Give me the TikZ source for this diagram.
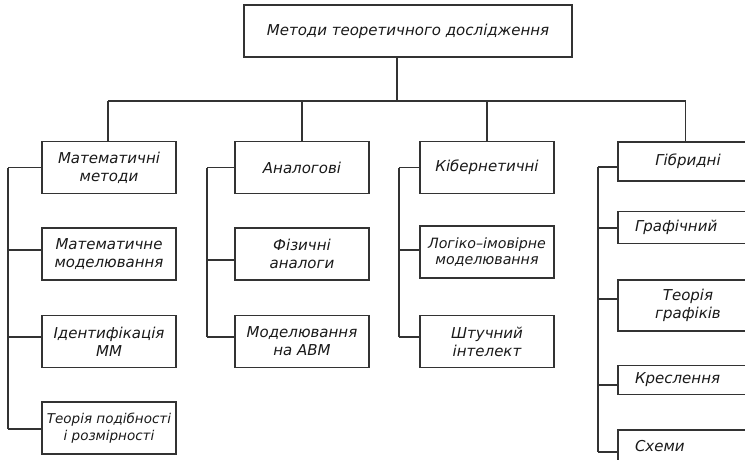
\documentclass[tikz,border=0pt]{standalone}
\usepackage{fontspec}
\setmainfont{DejaVu Sans}
\usetikzlibrary{calc}
\begin{document}
\begin{tikzpicture}[x=1pt,y=-1pt,
  box/.style={draw=black!80, line width=1.1pt, minimum width=134pt, minimum height=52pt,
    inner sep=0pt, align=center, text=black!90, font=\itshape\fontsize{15}{18}\selectfont},
  small/.style={font=\itshape\fontsize{13.5}{17}\selectfont},
  smallk/.style={font=\itshape\fontsize{14.2}{16.5}\selectfont},
  hbox/.style={box, minimum width=140pt},
  lbox/.style={hbox, text width=106pt, align=left},
  wire/.style={draw=black!80, line width=1.1pt}]
\useasboundingbox (0,0) rectangle (745,459);
\clip (0,0) rectangle (745,459);

% top
\node[box, minimum width=328pt] (top) at (408,31) {Методи теоретичного дослідження};

% column 1
\node[box] (m1) at (109,167.5) {Математичні\\методи};
\node[box] (m2) at (109,254) {Математичне\\моделювання};
\node[box] (m3) at (109,341.5) {Ідентифікація\\ММ};
\node[box, small] (m4) at (109,428) {Теорія подібності\\і розмірності};

% column 2
\node[box] (a1) at (302,167.5) {Аналогові};
\node[box] (a2) at (302,254) {Фізичні\\аналоги};
\node[box] (a3) at (302,341.5) {Моделювання\\на АВМ};

% column 3
\node[box] (k1) at (487,167.5) {Кібернетичні};
\node[box, smallk] (k2) at (487,252) {Логіко–імовірне\\моделювання};
\node[box] (k3) at (487,341.5) {Штучний\\інтелект};

% column 4
\node[hbox, minimum height=39pt] (h1) at (688,161.5) {Гібридні};
\node[lbox, minimum height=31.5pt] (h2) at (688,227.5) {Графічний};
\node[hbox, minimum height=51pt] (h3) at (688,305.5) {Теорія\\графіків};
\node[lbox, minimum height=28.5pt] (h4) at (688,380) {Креслення};
\node[lbox, minimum height=32pt] (h5) at (688,446) {Схеми};

% trunk and bus
\coordinate (trunk) at (397,101);
\coordinate (b1) at (108,101);
\coordinate (b4) at (685.5,101);
\draw[wire] (top.south -| trunk) -- (trunk);
\draw[wire] (b1) -- (b4);
\draw[wire] (b1) -- (b1 |- m1.north);
\draw[wire] (a1.north |- trunk) -- (a1.north);
\draw[wire] (k1.north |- trunk) -- (k1.north);
\draw[wire] (b4) -- (b4 |- h1.north);

% spines
\coordinate (s1) at (8,0);
\coordinate (s2) at (207,0);
\coordinate (s3) at (399,0);
\coordinate (s4) at (598,0);

\foreach \n/\d in {m1/0,m2/-4,m3/-4.5,m4/1}
  \draw[wire] ($(\n.west)+(0,\d)$) coordinate (\n c) -- (\n c -| s1);
\draw[wire] (m1c -| s1) -- (m4c -| s1);

\foreach \n/\d in {a1/0,a2/6,a3/-4.5}
  \draw[wire] ($(\n.west)+(0,\d)$) coordinate (\n c) -- (\n c -| s2);
\draw[wire] (a1c -| s2) -- (a3c -| s2);

\foreach \n/\d in {k1/0,k2/-2,k3/-4.5}
  \draw[wire] ($(\n.west)+(0,\d)$) coordinate (\n c) -- (\n c -| s3);
\draw[wire] (k1c -| s3) -- (k3c -| s3);

\foreach \n/\d in {h1/5.5,h2/0.5,h3/-6.5,h4/5,h5/6}
  \draw[wire] ($(\n.west)+(0,\d)$) coordinate (\n c) -- (\n c -| s4);
\draw[wire] (h1c -| s4) -- (h5c -| s4);
\end{tikzpicture}
\end{document}
